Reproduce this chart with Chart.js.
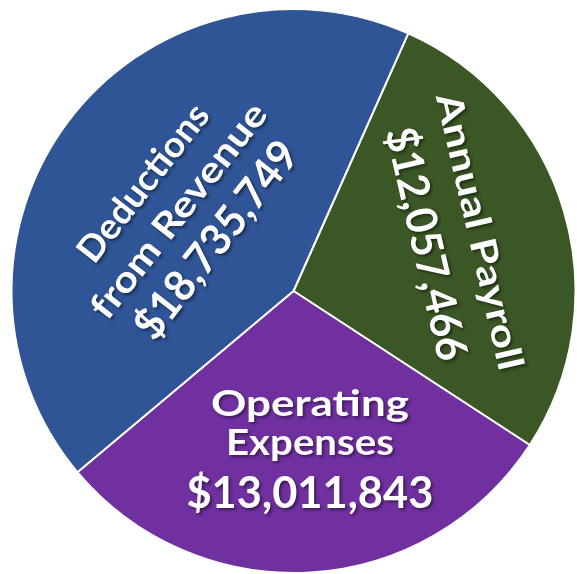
<!DOCTYPE html>
<html>
<head>
<meta charset="utf-8">
<script src="https://cdn.jsdelivr.net/npm/chart.js@4"></script>
<style>
  html, body { margin: 0; padding: 0; background: #fff; }
  #wrap { width: 577px; height: 574px; }
</style>
</head>
<body>
<div id="wrap"><canvas id="chart-spend" width="577" height="574"></canvas></div>
<script>
// ── Data ──────────────────────────────────────────────────────────────────
const categories  = ["Annual Payroll", "Operating Expenses", "Deductions from Revenue"];
const amounts     = [12057466, 13011843, 18735749];
const sliceColors = ["#3B5725", "#7030A0", "#2F5597"];
// label text (name lines), amount line is added from `amounts`
const labelLines  = [
  ["Annual Payroll"],
  ["Operating", "Expenses"],
  ["Deductions", "from Revenue"],
];

// ── Label placement (style only) ──────────────────────────────────────────
// dist = fraction of radius, shift = degrees off the slice mid-angle,
// rot = text rotation, base = baseline offsets per line in rotated frame,
// wide = rendered width per line (the original face is wider than Lato)
const labelStyle = [
  { dist: 0.600, shift: -2,   rot: 77,  base: [-14, 43],     wide: [283, 238] },
  { dist: 0.562, shift: -2.5, rot: 0,   base: [-33, 6, 59],  wide: [198, 168, 247] },
  { dist: 0.500, shift: -2,   rot: -52, base: [-32, 13, 63], wide: [190, 263, 238] },
];
const FONT = "Lato, 'Open Sans', sans-serif";
const NAME_SIZE = 36;
const AMOUNT_SIZE = 43;

const money = v => "$" + v.toLocaleString("en-US");

const sliceLabels = {
  id: "sliceLabels",
  afterDatasetsDraw(chart) {
    const ctx = chart.ctx;
    const arcs = chart.getDatasetMeta(0).data;
    arcs.forEach((arc, i) => {
      const p = arc.getProps(["x", "y", "startAngle", "endAngle", "outerRadius"], true);
      const st = labelStyle[i];
      const mid = (p.startAngle + p.endAngle) / 2 + st.shift * Math.PI / 180;
      const cx = p.x + Math.cos(mid) * p.outerRadius * st.dist;
      const cy = p.y + Math.sin(mid) * p.outerRadius * st.dist;

      const lines = labelLines[i].map(t => ({ text: t, size: NAME_SIZE }));
      lines.push({ text: money(amounts[i]), size: AMOUNT_SIZE });

      ctx.save();
      ctx.translate(cx, cy);
      ctx.rotate(st.rot * Math.PI / 180);
      ctx.textAlign = "center";
      ctx.textBaseline = "alphabetic";
      ctx.fillStyle = "#ffffff";
      ctx.shadowColor = "rgba(0,0,0,0.45)";
      ctx.shadowOffsetX = 2;
      ctx.shadowOffsetY = 2;
      ctx.shadowBlur = 3;
      lines.forEach((ln, j) => {
        ctx.font = `bold ${ln.size}px ${FONT}`;
        const sx = st.wide[j] / ctx.measureText(ln.text).width;
        ctx.save();
        ctx.translate(0, st.base[j]);
        ctx.scale(sx, 1);
        ctx.fillText(ln.text, 0, 0);
        ctx.restore();
      });
      ctx.restore();
    });
  },
};

function render() {
  const ctx = document.getElementById("chart-spend").getContext("2d");
  new Chart(ctx, {
    type: "pie",
    data: {
      labels: categories,
      datasets: [{
        data: amounts,
        backgroundColor: sliceColors,
        borderColor: "#ffffff",
        borderWidth: 2,
        hoverOffset: 0,
      }],
    },
    options: {
      responsive: false,
      animation: false,
      rotation: 24,
      layout: { padding: { left: 10, top: 8, right: 0, bottom: 0 } },
      plugins: { legend: { display: false }, tooltip: { enabled: false } },
    },
    plugins: [sliceLabels],
  });
}

document.fonts.load(`bold 36px Lato`).then(render, render);
</script>
</body>
</html>
